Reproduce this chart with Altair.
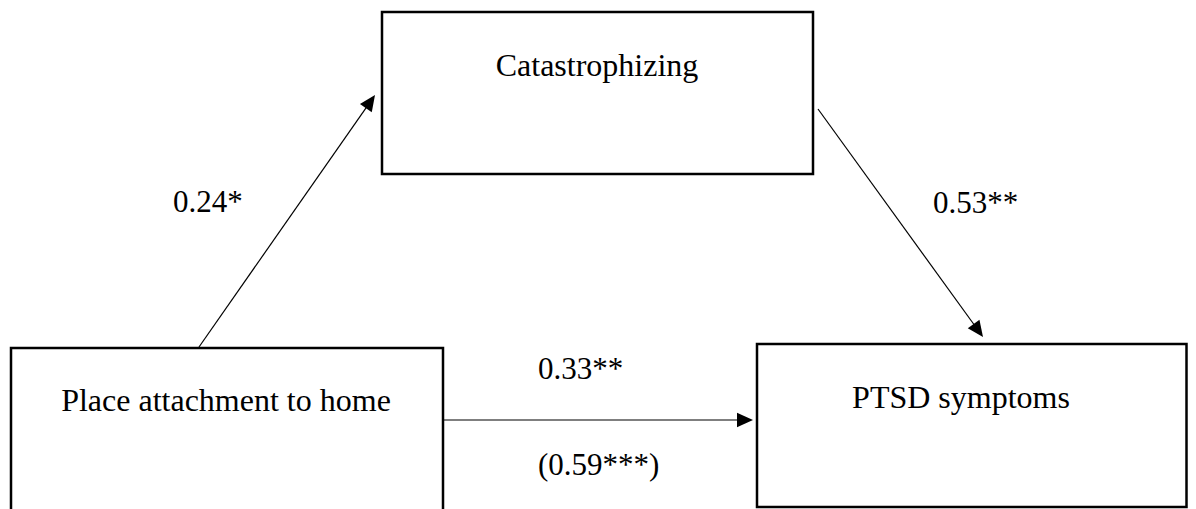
import math
import altair as alt
import pandas as pd

# ---- diagram content (layout units = page pixels) ----
node_names = ["Catastrophizing", "Place attachment to home", "PTSD symptoms"]
node_left = [382, 11, 757]
node_right = [813, 443, 1186.5]
node_top = [12, 348, 344]
node_bottom = [174, 560, 507]
node_text_x = [597, 226, 961]
node_text_y = [76, 411, 408]

edge_from_x = [199, 818, 443]
edge_from_y = [347, 109, 420]
edge_to_x = [375, 983, 753]
edge_to_y = [95, 337, 420]

coef_labels = ["0.24*", "0.53**", "0.33**", "(0.59***)"]
coef_x = [173, 933, 538, 538]
coef_y = [212, 213, 379, 475]

HEAD = 16  # arrowhead length

nodes = pd.DataFrame({
    "name": node_names, "x1": node_left, "x2": node_right,
    "y1": node_top, "y2": node_bottom, "tx": node_text_x, "ty": node_text_y,
})

rows = []
for fx, fy, tx, ty in zip(edge_from_x, edge_from_y, edge_to_x, edge_to_y):
    dx, dy = tx - fx, ty - fy
    L = math.hypot(dx, dy)
    ux, uy = dx / L, dy / L
    cx, cy = tx - ux * HEAD / 2, ty - uy * HEAD / 2
    ang = math.degrees(math.atan2(dx, -dy)) % 360
    rows.append({"fx": fx, "fy": fy, "cx": cx, "cy": cy, "angle": ang})
edges = pd.DataFrame(rows)

coefs = pd.DataFrame({"label": coef_labels, "x": coef_x, "y": coef_y})

W, H = 1180, 501
xs = alt.Scale(domain=[8, 8 + W], nice=False, zero=False)
ys = alt.Scale(domain=[8, 8 + H], nice=False, zero=False, reverse=True)

boxes = alt.Chart(nodes).mark_rect(
    fill="white", stroke="black", strokeWidth=2.5
).encode(
    x=alt.X("x1:Q", scale=xs, axis=None),
    x2="x2:Q",
    y=alt.Y("y1:Q", scale=ys, axis=None),
    y2="y2:Q",
)

box_text = alt.Chart(nodes).mark_text(
    font="Liberation Serif", fontSize=32, color="#000000",
    align="center", baseline="alphabetic"
).encode(
    x=alt.X("tx:Q", scale=xs, axis=None),
    y=alt.Y("ty:Q", scale=ys, axis=None),
    text="name:N",
)

lines = alt.Chart(edges).mark_rule(color="black", strokeWidth=1.2).encode(
    x=alt.X("fx:Q", scale=xs, axis=None),
    y=alt.Y("fy:Q", scale=ys, axis=None),
    x2="cx:Q",
    y2="cy:Q",
)

heads = alt.Chart(edges).mark_point(
    shape="M0,-1L-0.9,1L0.9,1Z", filled=True, size=HEAD * HEAD,
    color="black", opacity=1, strokeWidth=0
).encode(
    x=alt.X("cx:Q", scale=xs, axis=None),
    y=alt.Y("cy:Q", scale=ys, axis=None),
    angle=alt.Angle("angle:Q", scale=None),
)

coef_text = alt.Chart(coefs).mark_text(
    font="Liberation Serif", fontSize=31, color="#000000",
    align="left", baseline="alphabetic"
).encode(
    x=alt.X("x:Q", scale=xs, axis=None),
    y=alt.Y("y:Q", scale=ys, axis=None),
    text="label:N",
)

chart = alt.layer(boxes, box_text, lines, heads, coef_text).properties(
    width=W, height=H, padding=0, autosize=alt.AutoSizeParams(type="none"),
    background="white",
).configure_view(strokeWidth=0)

chart.save("out.html", embed_options={"renderer": "svg", "actions": False})
